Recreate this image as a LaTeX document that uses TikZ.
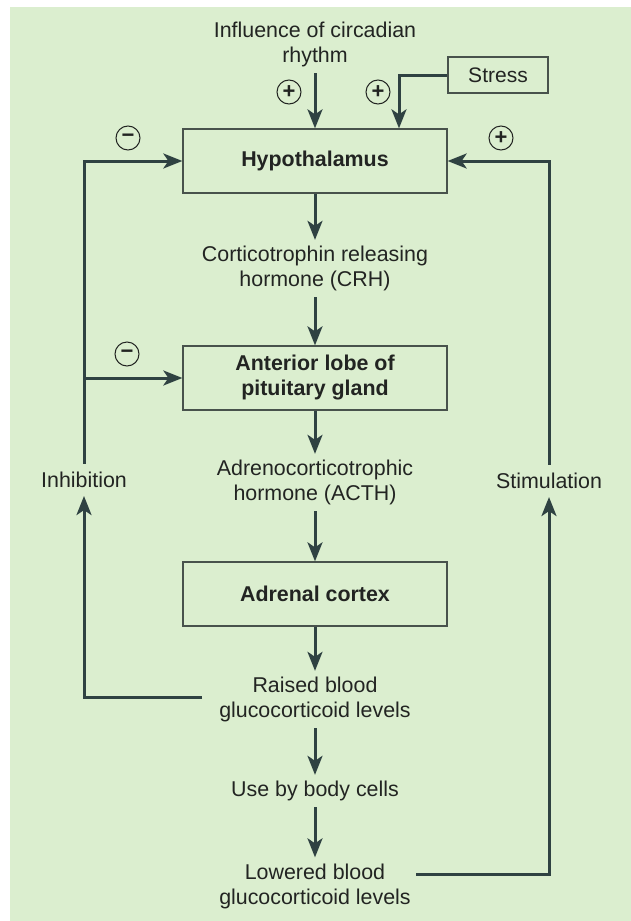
\documentclass[tikz,border=0pt]{standalone}
\usepackage{fontspec}
\setmainfont{Liberation Sans}
\usetikzlibrary{arrows.meta,calc}
\definecolor{bg}{RGB}{219,238,207}
\definecolor{ln}{RGB}{47,66,66}
\definecolor{tx}{RGB}{34,36,34}
\definecolor{bx}{RGB}{72,82,76}
\begin{document}
\begin{tikzpicture}[x=1pt,y=-1pt,
  every node/.style={text=tx, font=\fontsize{21.4}{25}\selectfont},
  lbl/.style={align=center, inner xsep=0pt, inner ysep=6pt},
  box/.style={draw=bx, line width=1.3pt, minimum width=264pt, minimum height=64pt, align=center, font=\fontsize{21.4}{25}\selectfont\bfseries},
  arr/.style={draw=ln, line width=3pt, -{Stealth[length=19pt,width=15pt,inset=5pt]}},
  sign/.style={circle, draw=tx, line width=1pt, minimum size=24pt, inner sep=0pt, font=\fontsize{22}{22}\selectfont\bfseries}
]
\fill[white] (0,0) rectangle (631,921);
\fill[bg] (10,7) rectangle (631,921);
\useasboundingbox (0,0) rectangle (631,921);

\node[lbl] (circ) at (315,44.5) {Influence of circadian\\rhythm};
\node[box] (hyp) at (315,161) {Hypothalamus};
\node[box, minimum width=100pt, minimum height=36pt, font=\fontsize{21}{25}\selectfont] (stress) at (498,75) {Stress};
\node[lbl] (crh) at (315,268.5) {Corticotrophin releasing\\hormone (CRH)};
\node[box] (ant) at (315,378) {Anterior lobe of\\pituitary gland};
\node[lbl] (acth) at (315,482.5) {Adrenocorticotrophic\\hormone (ACTH)};
\node[box] (adr) at (315,594) {Adrenal cortex};
\node[lbl] (raised) at (315,699.5) {Raised blood\\glucocorticoid levels};
\node[lbl] (use) at (315,791) {Use by body cells};
\node[lbl] (low) at (315,886) {Lowered blood\\glucocorticoid levels};
\node[lbl, inner ysep=8pt] (inhib) at (84,480) {Inhibition};
\node[lbl, inner ysep=8pt] (stim) at (549,481) {Stimulation};

\draw[arr] (circ.south) -- (hyp.north);
\draw[arr] (stress.west) -| ([xshift=84pt]hyp.north);
\draw[arr] (hyp.south) -- (crh.north);
\draw[arr] (crh.south) -- (ant.north);
\draw[arr] (ant.south) -- (acth.north);
\draw[arr] (acth.south) -- (adr.north);
\draw[arr] (adr.south) -- (raised.north);
\draw[arr] (raised.south) -- (use.north);
\draw[arr] (use.south) -- (low.north);

\coordinate (rl) at (202,697);
\draw[arr] (rl) -| (inhib.south);
\draw[arr] (inhib.north) |- (hyp.west);
\coordinate (br) at (inhib.north |- ant.west);
\draw[arr] (br) -- (ant.west);

\coordinate (lr) at (416,874);
\draw[arr] (lr) -| (stim.south);
\draw[arr] (stim.north) |- (hyp.east);

\node[sign] (s1) at (289,92) {+};
\node[sign] (s2) at (378,92) {+};
\node[sign] (s3) at (128,138) {−};
\node[sign] (s4) at (501,138) {+};
\node[sign] (s5) at (127,354) {−};
\end{tikzpicture}
\end{document}
